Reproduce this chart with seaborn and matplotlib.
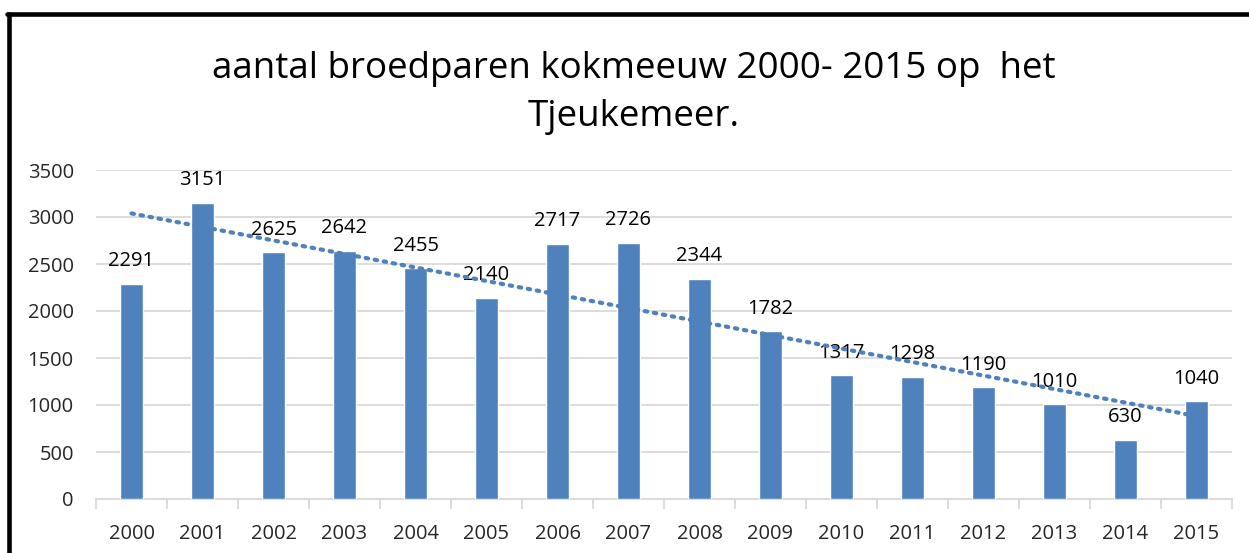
import numpy as np
import pandas as pd
import matplotlib
matplotlib.use("Agg")
import matplotlib.pyplot as plt
from matplotlib.lines import Line2D
import seaborn as sns

# data
jaren = ["2000", "2001", "2002", "2003", "2004", "2005", "2006", "2007",
         "2008", "2009", "2010", "2011", "2012", "2013", "2014", "2015"]
broedparen = [2291, 3151, 2625, 2642, 2455, 2140, 2717, 2726,
              2344, 1782, 1317, 1298, 1190, 1010, 630, 1040]
titel = "aantal broedparen kokmeeuw 2000- 2015 op  het\nTjeukemeer."

sns.set_theme(style="white")
plt.rcParams['font.family'] = ['Open Sans', 'DejaVu Sans']

blauw = "#4F81BD"
grid_kleur = "#D9D9D9"

df = pd.DataFrame({"jaar": jaren, "aantal": broedparen})

fig = plt.figure(figsize=(12.49, 5.53), dpi=100)
ax = fig.add_axes([96 / 1249, 1 - 499 / 553, (1232 - 96) / 1249, (499 - 170) / 553])

sns.barplot(data=df, x="jaar", y="aantal", color=blauw, width=0.32,
            saturation=1, ax=ax, zorder=3)

# lineaire trendlijn (zoals in Excel)
idx = np.arange(len(broedparen))
coef = np.polyfit(idx, broedparen, 1)
ax.plot(idx, np.polyval(coef, idx), color=blauw, lw=3, ls=(0, (0.6, 1.6)),
        dash_capstyle="round", zorder=4)

ax.bar_label(ax.containers[0], padding=9, fontsize=14.5, color="black")

ax.set_ylim(0, 3500)
ax.set_yticks(np.arange(0, 3501, 500))
ax.set_xlim(-0.5, len(jaren) - 0.5)
ax.yaxis.grid(True, color=grid_kleur, lw=1.3, zorder=0)
ax.set_axisbelow(True)
for s in ["top", "right", "left"]:
    ax.spines[s].set_visible(False)
ax.spines["bottom"].set_color(grid_kleur)
ax.spines["bottom"].set_linewidth(1.3)
ax.set_xlabel("")
ax.set_ylabel("")

# tick marks between categories
ax.set_xticks(np.arange(len(jaren)))
ax.set_xticklabels(jaren)
ax.set_xticks(np.arange(-0.5, len(jaren), 1), minor=True)
ax.tick_params(axis="x", which="minor", length=7, width=1.3, color=grid_kleur,
               direction="out", bottom=True)
ax.tick_params(axis="x", which="major", length=0, pad=18, labelsize=14.5)
ax.tick_params(axis="y", length=0, pad=16, labelsize=14.5)

fig.text(634 / 1249, 1 - 93 / 553, titel, ha="center", va="center",
         fontsize=26.5, linespacing=1.45, color="black")

# zwarte rand van het diagram
fig.add_artist(Line2D([8.5 / 1249, 8.5 / 1249], [1 - 13.5 / 553, 0],
                      transform=fig.transFigure, color="black", lw=3.3))
fig.add_artist(Line2D([6.5 / 1249, 1], [1 - 13.5 / 553, 1 - 13.5 / 553],
                      transform=fig.transFigure, color="black", lw=3.3))

fig.savefig("out.png", dpi=100)
